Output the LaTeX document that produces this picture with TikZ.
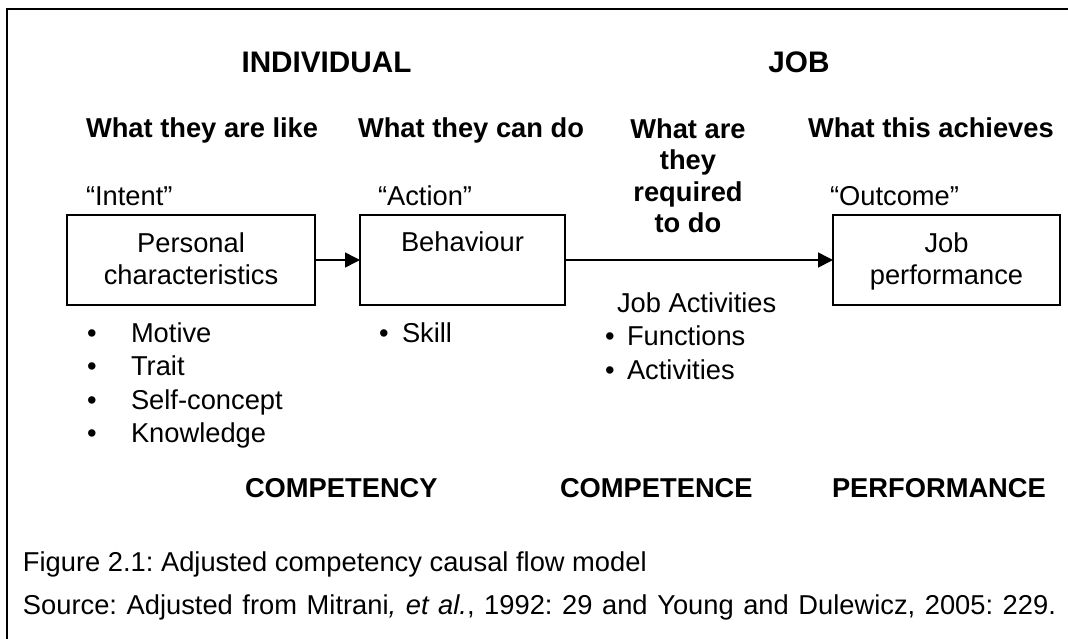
\documentclass[tikz,border=0pt]{standalone}
\usepackage{fontspec}
\setmainfont{Liberation Sans}
\usetikzlibrary{arrows.meta}
\frenchspacing
\begin{document}
\begin{tikzpicture}[x=1pt,y=-1pt,
  every node/.style={inner sep=0pt, outer sep=0pt, font=\fontsize{27.3}{31.5}\selectfont},
  big/.style={anchor=base, font=\fontsize{29.7}{34}\selectfont\bfseries},
  hdl/.style={anchor=base west, font=\fontsize{27.3}{31.5}\selectfont\bfseries},
  txt/.style={anchor=base west},
  bul/.style={anchor=base},
  boxs/.style={draw, line width=1.8pt, minimum height=90pt},
  arr/.style={-{Triangle[length=15pt,width=15pt]}, line width=1.6pt},
  frame/.style={line width=2.7pt}]
\useasboundingbox (0,0) rectangle (1068,638);
% outer frame (open towards the right and bottom edges)
\coordinate (fbl) at (7,648);
\coordinate (ftl) at (7,9);
\coordinate (ftr) at (1078,9);
\draw[frame] (fbl) -- (ftl) -- (ftr);

% top headings
\node[big] (ind) at (326.5,72) {INDIVIDUAL};
\node[big] (job) at (799,72) {JOB};

\node[hdl] (q1) at (86,137) {What they are like};
\node[hdl] (q2) at (358,137) {What they can do};
\node[anchor=north, align=center, font=\fontsize{27.3}{31.5}\selectfont\bfseries] (q3) at (688,118.7) {What are\\they\\required\\to do};
\node[hdl] (q4) at (808,137) {What this achieves};

% quoted labels
\node[txt] (intent) at (86,205) {“Intent”};
\node[txt] (action) at (378,205) {“Action”};
\node[txt] (outcome) at (830,205) {“Outcome”};

% boxes
\node[boxs, minimum width=248pt] (b1) at (191,260) {};
\node[boxs, minimum width=205pt] (b2) at (462.5,260) {};
\node[boxs, minimum width=227pt] (b3) at (946.5,260) {};

\node[anchor=north, align=center, font=\fontsize{27.3}{32}\selectfont] (t1) at (191,232.7) {Personal\\characteristics};
\node[anchor=base] (t2) at (462.5,251) {Behaviour};
\node[anchor=north, align=center, font=\fontsize{27.3}{32}\selectfont] (t3) at (946.5,232.7) {Job\\performance};

% connectors
\draw[arr] (b1.east) -- (b2.west);
\draw[arr] (b2.east) -- (b3.west);

% left bullet list
\node[bul] (m1) at (92,342) {•};
\node[txt] (motive) at (131,342) {Motive};
\node[bul] (m2) at (92,375.5) {•};
\node[txt] (trait) at (131,375.5) {Trait};
\node[bul] (m3) at (92,409) {•};
\node[txt] (self) at (131,409) {Self-concept};
\node[bul] (m4) at (92,442.5) {•};
\node[txt] (know) at (131,442.5) {Knowledge};

% skill
\node[bul] (s1) at (384,342) {•};
\node[txt] (skill) at (402,342) {Skill};

% job activities
\node[txt] (jobact) at (617,312) {Job Activities};
\node[bul] (f1) at (610,345) {•};
\node[txt] (func) at (627,345) {Functions};
\node[bul] (f2) at (610,379) {•};
\node[txt] (acts) at (627,379) {Activities};

% bottom labels
\node[hdl] (cy) at (245,497) {COMPETENCY};
\node[hdl] (ce) at (560,497) {COMPETENCE};
\node[hdl] (pf) at (832,497) {PERFORMANCE};

% caption
\node[txt] (cap1) at (23,571) {Figure 2.1: Adjusted competency causal flow model};
\node[txt] (cap2) at (23,614) {\makebox[1033pt][s]{Source: Adjusted from Mitrani\textit{,} \textit{et al.}, 1992: 29 and Young and Dulewicz, 2005: 229.}};
\end{tikzpicture}
\end{document}
